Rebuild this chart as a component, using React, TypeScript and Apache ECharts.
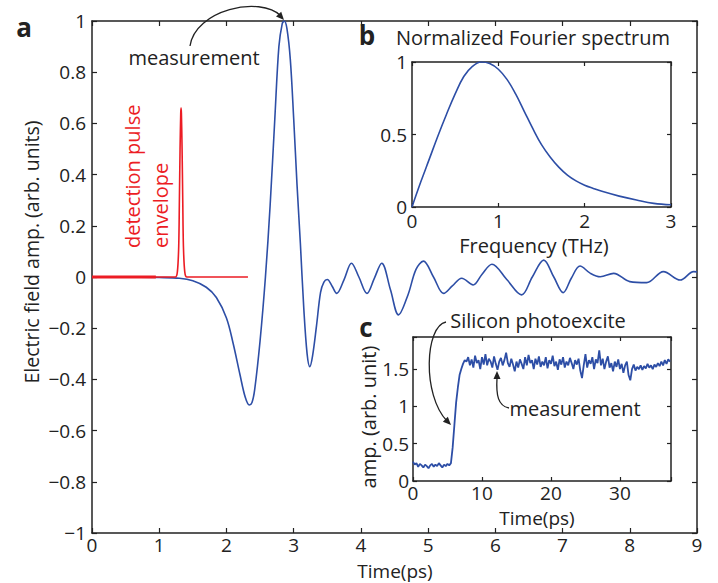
import React, { useEffect, useRef } from "react";
import * as echarts from "echarts";

// ---------- data ----------
const mainT = [0, 0.5, 1.0, 1.3, 1.5, 1.7, 1.85, 2.0, 2.1, 2.2, 2.28, 2.34, 2.38, 2.42, 2.5, 2.58, 2.65, 2.72, 2.78, 2.83, 2.86, 2.9, 2.95, 3.0, 3.05, 3.1, 3.15, 3.2, 3.24, 3.28, 3.34, 3.4, 3.45, 3.5, 3.57, 3.64, 3.75, 3.86, 3.97, 4.09, 4.2, 4.31, 4.44, 4.56, 4.7, 4.82, 4.93, 5.08, 5.23, 5.36, 5.5, 5.67, 5.8, 5.95, 6.17, 6.39, 6.55, 6.72, 6.87, 7.01, 7.13, 7.26, 7.41, 7.56, 7.76, 8.0, 8.25, 8.5, 8.75, 8.95, 9.0];
const mainV = [0, 0, -0.002, -0.005, -0.015, -0.04, -0.08, -0.16, -0.26, -0.38, -0.47, -0.5, -0.49, -0.44, -0.25, 0.0, 0.28, 0.62, 0.9, 0.99, 1.0, 0.97, 0.85, 0.62, 0.36, 0.13, -0.12, -0.3, -0.35, -0.31, -0.19, -0.06, -0.02, -0.01, -0.035, -0.064, -0.01, 0.054, 0.0, -0.064, -0.005, 0.054, -0.05, -0.148, -0.07, 0.03, 0.062, 0.0, -0.064, -0.035, -0.005, -0.031, 0.01, 0.05, -0.01, -0.07, 0.0, 0.066, 0.0, -0.061, -0.005, 0.043, 0.015, 0.001, 0.014, -0.018, -0.022, 0.021, -0.012, 0.021, 0.02];

const pulseT = [0, 1.0, 1.24, 1.27, 1.29, 1.3, 1.31, 1.32, 1.325, 1.33, 1.34, 1.35, 1.36, 1.38, 1.41, 2.32];
const pulseV = [0, 0, 0, 0.02, 0.12, 0.3, 0.5, 0.64, 0.66, 0.64, 0.5, 0.3, 0.12, 0.02, 0, 0];
const pulseThickT = [0, 0.95];
const pulseThickV = [0, 0];

const specF = [0, 0.1, 0.2, 0.3, 0.4, 0.5, 0.6, 0.7, 0.8, 0.9, 1.0, 1.1, 1.2, 1.3, 1.4, 1.5, 1.6, 1.7, 1.8, 1.9, 2.0, 2.1, 2.2, 2.4, 2.6, 2.8, 3.0];
const specV = [0, 0.17, 0.33, 0.49, 0.64, 0.78, 0.9, 0.97, 1.0, 0.99, 0.95, 0.88, 0.78, 0.66, 0.54, 0.43, 0.345, 0.275, 0.22, 0.18, 0.15, 0.128, 0.108, 0.075, 0.048, 0.025, 0.015];

const stepT = [0, 0.25, 0.5, 0.75, 1, 1.25, 1.5, 1.75, 2, 2.25, 2.5, 2.75, 3, 3.25, 3.5, 3.75, 4, 4.25, 4.5, 4.75, 5, 5.25, 5.5, 5.75, 6, 6.25, 6.5, 6.75, 7, 7.25, 7.5, 7.75, 8, 8.25, 8.5, 8.75, 9, 9.25, 9.5, 9.75, 10, 10.25, 10.5, 10.75, 11, 11.25, 11.5, 11.75, 12, 12.25, 12.5, 12.75, 13, 13.25, 13.5, 13.75, 14, 14.25, 14.5, 14.75, 15, 15.25, 15.5, 15.75, 16, 16.25, 16.5, 16.75, 17, 17.25, 17.5, 17.75, 18, 18.25, 18.5, 18.75, 19, 19.25, 19.5, 19.75, 20, 20.25, 20.5, 20.75, 21, 21.25, 21.5, 21.75, 22, 22.25, 22.5, 22.75, 23, 23.25, 23.5, 23.75, 24, 24.25, 24.5, 24.75, 25, 25.25, 25.5, 25.75, 26, 26.25, 26.5, 26.75, 27, 27.25, 27.5, 27.75, 28, 28.25, 28.5, 28.75, 29, 29.25, 29.5, 29.75, 30, 30.25, 30.5, 30.75, 31, 31.25, 31.5, 31.75, 32, 32.25, 32.5, 32.75, 33, 33.25, 33.5, 33.75, 34, 34.25, 34.5, 34.75, 35, 35.25, 35.5, 35.75, 36, 36.25, 36.5, 36.75, 37, 37.25];
const stepV = [0.26, 0.22, 0.24, 0.19, 0.23, 0.21, 0.18, 0.22, 0.2, 0.17, 0.21, 0.23, 0.19, 0.22, 0.2, 0.24, 0.21, 0.18, 0.22, 0.2, 0.23, 0.21, 0.24, 0.45, 0.75, 1.05, 1.25, 1.42, 1.5, 1.57, 1.62, 1.6, 1.66, 1.55, 1.63, 1.52, 1.68, 1.58, 1.62, 1.5, 1.66, 1.56, 1.7, 1.55, 1.64, 1.6, 1.52, 1.67, 1.57, 1.49, 1.6, 1.65, 1.55, 1.62, 1.72, 1.58, 1.53, 1.64, 1.56, 1.47, 1.6, 1.52, 1.63, 1.57, 1.5, 1.66, 1.55, 1.69, 1.58, 1.62, 1.5, 1.64, 1.56, 1.67, 1.53, 1.6, 1.55, 1.66, 1.51, 1.62, 1.57, 1.68, 1.54, 1.6, 1.49, 1.63, 1.56, 1.66, 1.52, 1.6, 1.55, 1.65, 1.58, 1.5, 1.62, 1.56, 1.64, 1.48, 1.38, 1.55, 1.7, 1.52, 1.62, 1.57, 1.66, 1.5, 1.63, 1.58, 1.75, 1.55, 1.64, 1.5, 1.6, 1.67, 1.52, 1.58, 1.47, 1.6, 1.53, 1.63, 1.5, 1.57, 1.45, 1.55, 1.6, 1.42, 1.35, 1.5, 1.56, 1.48, 1.53, 1.5, 1.55, 1.49, 1.54, 1.51, 1.57, 1.52, 1.55, 1.5, 1.56, 1.53, 1.58, 1.54, 1.6, 1.55, 1.62, 1.57, 1.63, 1.6];

const mainXTicks = { min: 0, max: 9, interval: 1 };
const mainYTicks = { min: -1, max: 1, interval: 0.2 };
const bXTicks = { min: 0, max: 3, interval: 1 };
const bYTicks = { min: 0, max: 1, interval: 0.5 };
const cXTicks = { min: 0, max: 37.4, interval: 10 };
const cYTicks = { min: 0, max: 1.93, interval: 0.5 };

// ---------- styles ----------
const FONT = '"Open Sans", "Noto Sans", sans-serif';
const INK = "#222";
const BLUE = "#2d4ea6";
const RED = "#ec1c24";

const zip = (a: number[], b: number[]) => a.map((v, i) => [v, b[i]]);

function fmt(interval: number) {
  return (v: number) => {
    const k = v / interval;
    if (Math.abs(k - Math.round(k)) > 1e-6) return "";
    const r = Math.round(v * 100) / 100;
    if (r === 0) return "0";
    return String(r).replace("-", "\u2212");
  };
}

function axis(kind: "x" | "y", grid: number, ticks: any, pos: string, labels: boolean, tickLen: number, margin: number) {
  return {
    type: "value",
    gridIndex: grid,
    position: pos,
    min: ticks.min,
    max: ticks.max,
    interval: ticks.interval,
    axisLine: { show: true, onZero: false, lineStyle: { color: INK, width: 1.5 } },
    axisTick: { show: true, inside: true, length: tickLen, lineStyle: { color: INK, width: 1.2 } },
    axisLabel: {
      show: labels,
      fontFamily: FONT,
      fontSize: 19,
      color: INK,
      margin,
      lineHeight: 19,
      formatter: fmt(ticks.interval),
    },
    splitLine: { show: false },
  };
}

function arrowHead(tx: number, ty: number, dx: number, dy: number) {
  const l = Math.hypot(dx, dy);
  const ux = dx / l, uy = dy / l;
  const len = 8, w = 3.5;
  const bx = tx - ux * len, by = ty - uy * len;
  return {
    type: "polygon",
    shape: { points: [[tx, ty], [bx - uy * w, by + ux * w], [bx + uy * w, by - ux * w]] },
    style: { fill: INK },
    z: 100,
  };
}

function txt(text: string, x: number, y: number, size: number, opts: any = {}) {
  return {
    type: "text",
    x,
    y,
    rotation: opts.rotation || 0,
    z: 100,
    style: {
      text,
      fill: opts.fill || INK,
      fontFamily: FONT,
      fontSize: size,
      lineHeight: size,
      fontWeight: opts.bold ? "bold" : "normal",
      textAlign: opts.align || "center",
      textVerticalAlign: "middle",
      align: opts.align || "center",
      verticalAlign: "middle",
    },
  };
}

function curve(x1: number, y1: number, c1x: number, c1y: number, c2x: number, c2y: number, x2: number, y2: number) {
  return {
    type: "bezierCurve",
    z: 100,
    shape: { x1, y1, cpx1: c1x, cpy1: c1y, cpx2: c2x, cpy2: c2y, x2, y2 },
    style: { stroke: INK, lineWidth: 1.3, fill: "none" },
  };
}

export default function App() {
  const ref = useRef<HTMLDivElement>(null);
  useEffect(() => {
    if (!ref.current) return;
    const chart = echarts.init(ref.current, null, { renderer: "svg" });
    const option: any = {
      animation: false,
      backgroundColor: "#fff",
      grid: [
        { left: 92, top: 21, width: 605, height: 512, show: false },
        { left: 412, top: 62, width: 259, height: 145, show: true, backgroundColor: "#fff", borderWidth: 0, z: 3 },
        { left: 413, top: 337, width: 258, height: 144, show: true, backgroundColor: "#fff", borderWidth: 0, z: 3 },
      ],
      xAxis: [
        axis("x", 0, mainXTicks, "bottom", true, 5, 2),
        axis("x", 0, mainXTicks, "top", false, 5, 2),
        { ...axis("x", 1, bXTicks, "bottom", true, 4, 4), z: 4 },
        { ...axis("x", 1, bXTicks, "top", false, 4, 4), z: 4 },
        { ...axis("x", 2, cXTicks, "bottom", true, 4, 2), z: 4 },
        { ...axis("x", 2, cXTicks, "top", false, 4, 2), z: 4 },
      ],
      yAxis: [
        axis("y", 0, mainYTicks, "left", true, 5, 6),
        axis("y", 0, mainYTicks, "right", false, 5, 6),
        { ...axis("y", 1, bYTicks, "left", true, 4, 5), z: 4 },
        { ...axis("y", 1, bYTicks, "right", false, 4, 5), z: 4 },
        { ...axis("y", 2, cYTicks, "left", true, 4, 4), z: 4 },
        { ...axis("y", 2, cYTicks, "right", false, 4, 4), z: 4 },
      ],
      series: [
        {
          type: "line", xAxisIndex: 0, yAxisIndex: 0, data: zip(mainT, mainV),
          showSymbol: false, smooth: 0.35, lineStyle: { color: BLUE, width: 1.6 }, z: 2,
        },
        {
          type: "line", xAxisIndex: 0, yAxisIndex: 0, data: zip(pulseT, pulseV),
          showSymbol: false, smooth: 0.3, lineStyle: { color: RED, width: 1.6 }, z: 3,
        },
        {
          type: "line", xAxisIndex: 0, yAxisIndex: 0, data: zip(pulseThickT, pulseThickV),
          showSymbol: false, lineStyle: { color: RED, width: 3.2 }, z: 3,
        },
        {
          type: "line", xAxisIndex: 2, yAxisIndex: 2, data: zip(specF, specV),
          showSymbol: false, smooth: 0.4, lineStyle: { color: BLUE, width: 1.6 }, z: 5,
        },
        {
          type: "line", xAxisIndex: 4, yAxisIndex: 4, data: zip(stepT, stepV),
          showSymbol: false, lineStyle: { color: BLUE, width: 1.8 }, z: 5,
        },
      ],
      graphic: [
        txt("a", 24, 27, 26, { bold: true }),
        txt("b", 367, 35, 26, { bold: true }),
        txt("c", 366, 327, 26, { bold: true }),
        txt("Normalized Fourier spectrum", 533, 37, 20),
        txt("Frequency (THz)", 534, 245, 20),
        txt("Time(ps)", 395, 571, 19),
        txt("Time(ps)", 537, 518, 19),
        txt("Electric field amp. (arb. units)", 31, 252, 19.5, { rotation: Math.PI / 2 }),
        txt("amp. (arb. unit)", 368, 417, 20, { rotation: Math.PI / 2 }),
        txt("detection pulse", 132, 248, 20, { rotation: Math.PI / 2, align: "left", fill: RED }),
        txt("envelope", 160, 248, 20, { rotation: Math.PI / 2, align: "left", fill: RED }),
        txt("measurement", 194, 57, 20),
        txt("Silicon photoexcite", 538, 320, 20),
        txt("measurement", 575, 408, 20),
        curve(190, 46, 195, 10, 260, -5, 281, 16),
        arrowHead(284, 20, 1, 1.1),
        curve(446, 322, 425, 326, 422, 395, 447, 421),
        arrowHead(451, 425, 1, 1),
        curve(509, 408, 498, 406, 496, 395, 497, 378),
        arrowHead(497, 371, 0, -1),
      ],
    };
    chart.setOption(option);
    return () => chart.dispose();
  }, []);
  return (
    <div
      ref={ref}
      style={{ position: "fixed", left: 0, top: 0, width: 718, height: 583, background: "#fff" }}
    />
  );
}
